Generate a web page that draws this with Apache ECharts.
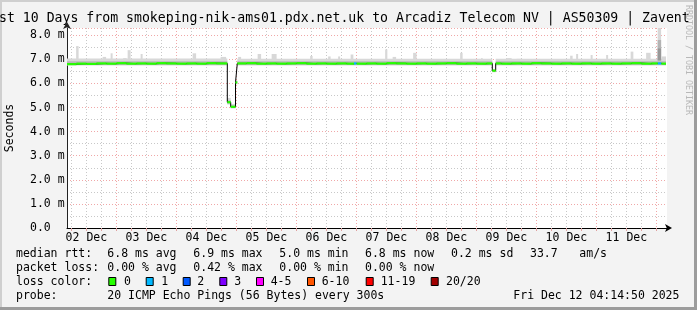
<!DOCTYPE html>
<html><head><meta charset="utf-8">
<script src="https://cdn.jsdelivr.net/npm/echarts@6/dist/echarts.min.js"></script>
<style>html,body{margin:0;padding:0;background:#f3f3f3}#c{width:697px;height:310px}</style>
</head><body><div id="c"></div><script>
// ---------------- data ----------------
const titleText = 'st 10 Days from smokeping-nik-ams01.pdx.net.uk to Arcadiz Telecom NV | AS50309 | Zavent';
const watermark = 'RRDTOOL / TOBI OETIKER';
// x values are hours since 02 Dec 2025 00:00
const xMin = 4.25, xMax = 244.25;
const dayLabelHours = [12, 36, 60, 84, 108, 132, 156, 180, 204, 228];
const dayLabels = ['02 Dec','03 Dec','04 Dec','05 Dec','06 Dec','07 Dec','08 Dec','09 Dec','10 Dec','11 Dec'];
const gridHours = [6,12,18,24,30,36,42,48,54,60,66,72,78,84,90,96,102,108,114,120,126,132,138,144,150,156,162,168,174,180,186,192,198,204,210,216,222,228,234,240];
const yMax = 8.3;
const yAxisName = 'Seconds';

const medianT = [4.25, 8, 12, 16, 20, 24, 28, 32, 36, 40, 44, 48, 52, 56, 60, 64,
  68.37, 69.73, 71.65, 72.37, 76, 80, 84, 88, 92, 96, 100, 104, 108, 112, 116,
  119.05, 120.1, 124, 128, 132, 136, 140, 144, 148, 152, 156, 160, 164, 168, 172,
  174.37, 175.73, 178, 182, 186, 190, 194, 198, 202, 206, 210, 214, 218, 222, 226,
  230, 234, 238, 240.6, 242, 243.85];
const medianV = [6.80, 6.82, 6.81, 6.83, 6.82, 6.84, 6.82, 6.83, 6.82, 6.84, 6.83, 6.82, 6.83, 6.82, 6.84, 6.83,
  5.22, 5.03, 6.04, 6.83, 6.84, 6.82, 6.83, 6.82, 6.83, 6.84, 6.82, 6.83, 6.82, 6.83, 6.82,
  6.83, 6.82, 6.83, 6.82, 6.84, 6.83, 6.82, 6.83, 6.82, 6.83, 6.84, 6.82, 6.83, 6.82, 6.83,
  6.53, 6.83, 6.82, 6.83, 6.82, 6.84, 6.83, 6.82, 6.83, 6.82, 6.83, 6.82, 6.83, 6.82, 6.83,
  6.84, 6.82, 6.83, 6.83, 6.82, 6.82];
const medianLoss = [0,0,0,0,0,0,0,0,0,0,0,0,0,0,0,0,
  0,0,0,0,0,0,0,0,0,0,0,0,0,0,0,
  1,0,0,0,0,0,0,0,0,0,0,0,0,0,0,
  0,0,0,0,0,0,0,0,0,0,0,0,0,0,0,
  0,0,0,1,0,0];

// smoke bands [start, end, low, high]
const smokeLight = [
  [4.25, 68.37, 6.74, 7.03], [68.37, 69.73, 5.12, 5.40], [69.73, 71.65, 4.96, 5.15],
  [71.65, 72.37, 5.96, 6.12], [72.37, 174.37, 6.74, 7.02], [174.37, 175.73, 6.46, 6.60],
  [175.73, 243.85, 6.74, 7.02]];
const smokeDark = [
  [4.25, 68.37, 6.76, 6.92], [68.37, 69.73, 5.16, 5.30], [69.73, 71.65, 4.99, 5.09],
  [71.65, 72.37, 6.00, 6.08], [72.37, 174.37, 6.76, 6.92], [174.37, 175.73, 6.49, 6.57],
  [175.73, 243.85, 6.76, 6.92]];
// smoke spikes [start, end, top]
const spikeBase = 6.95;
const smokeSpikes = [
  [7.9, 8.9, 7.55], [18.5, 19.9, 7.10], [21.7, 22.5, 7.25], [26.7, 28.1, 7.05], [28.5, 29.7, 7.38],
  [33.7, 34.5, 7.22], [54.5, 55.9, 7.25], [65.7, 67.9, 7.10], [72.7, 73.9, 7.10], [80.5, 81.9, 7.22],
  [86.1, 88.1, 7.22], [101.5, 102.5, 7.14], [108.7, 109.7, 7.12], [112.7, 113.5, 7.12], [117.7, 118.8, 7.20],
  [131.5, 132.4, 7.41], [134.5, 135.9, 7.10], [142.7, 144.1, 7.27], [161.5, 162.5, 7.27], [169.9, 170.5, 7.05],
  [179.9, 182.1, 7.05], [184.1, 186.1, 7.02], [205.5, 206.5, 7.15], [207.9, 208.7, 7.22], [213.7, 214.5, 7.18],
  [219.9, 220.7, 7.18], [229.7, 230.8, 7.32], [235.9, 237.7, 7.27], [240.5, 241.9, 8.30], [242.1, 243.85, 7.12]];
const bigSpikeMid = [[240.5, 241.9, 6.95, 7.80]];
const bigSpikeDark = [[240.5, 241.9, 6.95, 7.45]];

const statsRow1 = ['median rtt:', '6.8 ms avg', '6.9 ms max', '5.0 ms min', '6.8 ms now', '0.2 ms sd', '33.7', 'am/s'];
const statsRow2 = ['packet loss:', '0.00 % avg', '0.42 % max', '0.00 % min', '0.00 % now'];
const lossLabel = 'loss color:';
const lossNames = ['0', '1', '2', '3', '4-5', '6-10', '11-19', '20/20'];
const probeRow = ['probe:', '20 ICMP Echo Pings (56 Bytes) every 300s', 'Fri Dec 12 04:14:50 2025'];

// ---------------- styles / layout ----------------
const FONT = '"DejaVu Sans Mono", monospace';
const lossColors = ['#26ff00', '#00b8ff', '#0059ff', '#7e00ff', '#ff00ff', '#ff5500', '#ff0000', '#a10000'];
const row1X = [16, 107.3, 193.3, 279.3, 365, 451, 530, 579.3];
const row2X = [16, 107.3, 193.3, 279.3, 365];
const lossBoxX = [108.3, 145.7, 182.7, 219.3, 256, 307, 365.7, 430.7];
const lossTextX = [124, 161.3, 197.3, 234.3, 270.7, 321.7, 380.7, 446];
const probeX = [16, 107.3, 513.3];
const rowY = [254.5, 268.5, 282, 296];

const medianData = medianT.map((t, i) => [t, medianV[i]]);
const greenSegs = [];
for (let i = 0; i < medianT.length - 1; i++) greenSegs.push([medianT[i], medianT[i + 1], medianV[i], medianLoss[i]]);
const spikeRects = smokeSpikes.map(s => [s[0], s[1], spikeBase, s[2]]);

function rectRenderer(color) {
  return function (params, api) {
    const p0 = api.coord([api.value(0), api.value(3)]);
    const p1 = api.coord([api.value(1), api.value(2)]);
    return { type: 'rect', shape: { x: p0[0], y: p0[1], width: p1[0] - p0[0], height: p1[1] - p0[1] },
      style: { fill: color } };
  };
}
function rectSeries(data, color, z) {
  return { type: 'custom', data, z, silent: true, clip: true, encode: { x: [0, 1], y: [2, 3] },
    renderItem: rectRenderer(color) };
}

const graphics = [];
function txt(text, x, y, size, extra) {
  graphics.push(Object.assign({ type: 'text', x, y, silent: true,
    style: { text, font: size + 'px ' + FONT, fill: '#000', verticalAlign: 'middle', align: 'left' } }, extra || {}));
}
// frame
graphics.push({ type: 'rect', shape: { x: 0, y: 0, width: 697, height: 2 }, style: { fill: '#cfcfcf' }, silent: true });
graphics.push({ type: 'rect', shape: { x: 0, y: 0, width: 2, height: 310 }, style: { fill: '#cfcfcf' }, silent: true });
graphics.push({ type: 'rect', shape: { x: 694, y: 0, width: 3, height: 310 }, style: { fill: '#9c9c9c' }, silent: true });
graphics.push({ type: 'rect', shape: { x: 0, y: 307, width: 697, height: 3 }, style: { fill: '#9c9c9c' }, silent: true });
txt(titleText, -1, 19, 13.2);
graphics.push({ type: 'text', x: 688.5, y: 60, rotation: -Math.PI / 2, silent: true,
  style: { text: watermark, font: '8.3px ' + FONT, fill: '#b8b8b8', align: 'center', verticalAlign: 'middle' } });
statsRow1.forEach((s, i) => txt(s, row1X[i], rowY[0], 11.5));
statsRow2.forEach((s, i) => txt(s, row2X[i], rowY[1], 11.5));
txt(lossLabel, 16, rowY[2], 11.5);
lossNames.forEach((s, i) => {
  graphics.push({ type: 'rect', silent: true, shape: { x: lossBoxX[i] + 0.5, y: rowY[2] - 4.5, width: 7, height: 8 },
    style: { fill: lossColors[i], stroke: '#000', lineWidth: 1 } });
  txt(s, lossTextX[i], rowY[2], 11.5);
});
probeRow.forEach((s, i) => txt(s, probeX[i], rowY[3], 11.5));

const option = {
  animation: false,
  backgroundColor: '#f3f3f3',
  grid: { left: 67, top: 28, width: 600, height: 200, show: true, backgroundColor: '#ffffff', borderWidth: 0,
    containLabel: false, outerBoundsMode: 'none' },
  xAxis: {
    type: 'value', min: xMin, max: xMax,
    axisLine: { lineStyle: { color: '#000', width: 1 }, symbol: ['none', 'arrow'], symbolSize: [6, 7], symbolOffset: [0, 5] },
    splitLine: { show: false },
    axisTick: { show: true, customValues: gridHours, length: 3, lineStyle: { color: '#e0a0a0' } },
    axisLabel: { customValues: dayLabelHours, margin: 4, color: '#000', fontFamily: FONT, fontSize: 11.5,
      formatter: v => dayLabels[dayLabelHours.indexOf(v)] || '' }
  },
  yAxis: {
    type: 'value', min: 0, max: yMax, interval: 1,
    name: yAxisName, nameLocation: 'middle', nameGap: 51, nameRotate: 90,
    nameTextStyle: { color: '#000', fontFamily: FONT, fontSize: 11.5 },
    axisLine: { show: true, lineStyle: { color: '#222', width: 1 }, symbol: ['none', 'arrow'], symbolSize: [6, 7], symbolOffset: [0, 6] },
    axisTick: { show: false },
    axisLabel: { align: 'left', margin: 37, color: '#000', fontFamily: FONT, fontSize: 11.5, showMaxLabel: false,
      formatter: v => (Math.abs(v - Math.round(v)) > 1e-6 ? '' : (v === 0 ? '0.0' : v.toFixed(1) + ' m')) },
    splitLine: { show: true, lineStyle: { color: '#f0a8a8', type: [1, 2], width: 1 } },
    minorTick: { show: false, splitNumber: 2 },
    minorSplitLine: { show: true, lineStyle: { color: '#c8c8c8', type: [1, 2], width: 1 } }
  },
  graphic: graphics,
  series: [
    { type: 'custom', z: 1, silent: true, clip: true, data: gridHours.map(h => [h, 0]), encode: { x: 0, y: 1 },
      renderItem: function (params, api) {
        const h = api.value(0);
        const x = Math.round(api.coord([h, 0])[0]) + 0.5;
        const cs = params.coordSys;
        return { type: 'line', shape: { x1: x, y1: cs.y, x2: x, y2: cs.y + cs.height },
          style: { stroke: h % 24 === 0 ? '#f0a8a8' : '#c8c8c8', lineWidth: 1, lineDash: [1, 2] } };
      } },
    rectSeries(smokeLight, '#d8d8d8', 2),
    rectSeries(spikeRects, '#d8d8d8', 2),
    rectSeries(bigSpikeMid, '#b4b4b4', 2),
    rectSeries(bigSpikeDark, '#989898', 2),
    rectSeries(smokeDark, '#b8b8b8', 2),
    { type: 'line', z: 3, silent: true, step: 'end', data: medianData, symbol: 'none',
      lineStyle: { color: '#000', width: 1 } },
    { type: 'custom', z: 4, silent: true, clip: true, data: greenSegs, encode: { x: [0, 1], y: 2 },
      renderItem: function (params, api) {
        const p0 = api.coord([api.value(0), api.value(2)]);
        const p1 = api.coord([api.value(1), api.value(2)]);
        return { type: 'line', shape: { x1: p0[0], y1: p0[1], x2: p1[0], y2: p1[1] },
          style: { stroke: lossColors[api.value(3)], lineWidth: 2.2 } };
      } }
  ]
};
const chart = echarts.init(document.getElementById('c'), null, { renderer: 'canvas' });
chart.setOption(option);
</script></body></html>
